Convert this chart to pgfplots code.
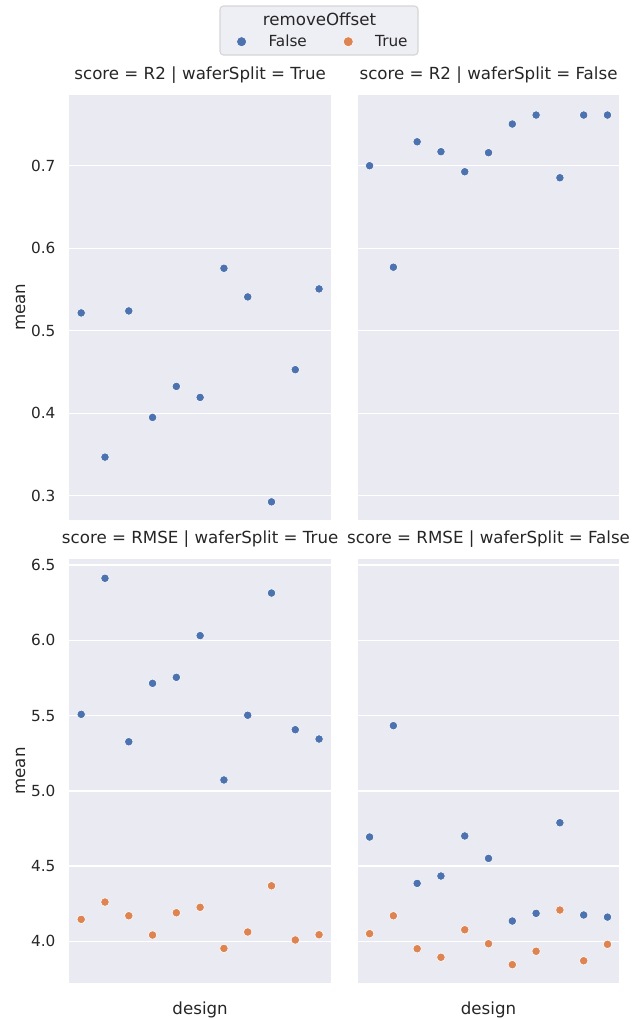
\documentclass[border=0pt]{standalone}
\usepackage{pgfplots}
\pgfplotsset{compat=1.18}
\usepackage{fontspec}
\setmainfont{DejaVu Sans}
\definecolor{sbblue}{HTML}{4C72B0}
\definecolor{sborange}{HTML}{DD8452}
\definecolor{sbbg}{HTML}{EAEAF2}
\definecolor{sbtext}{HTML}{262626}
\definecolor{legfill}{HTML}{EEEEF5}
\definecolor{legedge}{HTML}{D6D6D6}

\pgfplotstableread{
x y
0 0.5216
1 0.3468
2 0.5240
3 0.3949
4 0.4325
5 0.4192
6 0.5757
7 0.5410
8 0.2926
9 0.4528
10 0.5507
}\rtwoTrueFalse
\pgfplotstableread{
x y
0 0.7000
1 0.5770
2 0.7290
3 0.7170
4 0.6927
5 0.7158
6 0.7505
7 0.7614
8 0.6854
9 0.7614
10 0.7614
}\rtwoFalseFalse
\pgfplotstableread{
x y
0 5.508
1 6.412
2 5.326
3 5.714
4 5.754
5 6.031
6 5.072
7 5.502
8 6.314
9 5.406
10 5.344
}\rmseTrueFalse
\pgfplotstableread{
x y
0 4.146
1 4.261
2 4.170
3 4.042
4 4.190
5 4.226
6 3.953
7 4.062
8 4.369
9 4.009
10 4.044
}\rmseTrueTrue
\pgfplotstableread{
x y
0 4.693
1 5.433
2 4.385
3 4.434
4 4.700
5 4.551
6 4.135
7 4.186
8 4.788
9 4.175
10 4.161
}\rmseFalseFalse
\pgfplotstableread{
x y
0 4.051
1 4.170
2 3.951
3 3.894
4 4.077
5 3.984
6 3.845
7 3.934
8 4.208
9 3.871
10 3.980
}\rmseFalseTrue

\pgfplotsset{
  facet/.style={
    scale only axis, width=188.4pt,
    xmin=-0.5, xmax=10.5, xtick=\empty,
    axis background/.style={fill=sbbg},
    axis line style={draw=none},
    ymajorgrids, grid style={white, line width=1pt},
    major tick length=0pt, tick style={draw=none},
    yticklabel style={font=\fontsize{11}{13}\selectfont, text=sbtext, inner sep=0pt, anchor=east, xshift=-9.8pt},
    title style={font=\fontsize{12}{14}\selectfont, text=sbtext, at={(axis description cs:0.5,1)}, anchor=base, yshift=5.5pt},
    xlabel style={font=\fontsize{12}{14}\selectfont, text=sbtext, at={(axis description cs:0.5,0)}, anchor=base, yshift=-22.55pt},
    ylabel style={font=\fontsize{12}{14}\selectfont, text=sbtext, at={(axis description cs:-0.1693,0.5)}, anchor=base},
    /pgf/number format/assume math mode=true,
    /pgf/number format/fixed,
    /pgf/number format/fixed zerofill,
    /pgf/number format/precision=1,
    clip=false,
  },
  bluept/.style={only marks, mark=*, mark size=3.05pt, mark options={fill=sbblue, draw=white, line width=0.4pt}},
  orangept/.style={only marks, mark=*, mark size=3.05pt, mark options={fill=sborange, draw=white, line width=0.4pt}},
}

\begin{document}
\begin{tikzpicture}
\path[use as bounding box] (0pt,0pt) rectangle (460.8pt,-733.68pt);
% legend frame and title
\draw[legedge, fill=legfill, rounded corners=2.5pt, line width=0.8pt] (158.4pt,-4.32pt) rectangle (300.96pt,-39.6pt);
\node[anchor=base, font=\fontsize{12}{14}\selectfont, text=sbtext] at (230.04pt,-18pt) {removeOffset};

% top-left
\begin{axis}[facet, anchor=north west, at={(49.9pt,-68.4pt)}, height=305.64pt,
  ymin=0.2712, ymax=0.7857, ytick={0.3,0.4,0.5,0.6,0.7},
  title={score = R2 | waferSplit = True}, ylabel={mean},
  legend columns=2,
  legend style={at={(0.6392,1.1256)}, anchor=west, draw=none, fill=none, inner sep=0pt, outer sep=0pt,
    font=\fontsize{11}{13}\selectfont, text=sbtext,
    nodes={inner sep=0pt, outer sep=0pt},
    /tikz/every odd column/.append style={column sep=15.8pt},
    /tikz/every even column/.append style={column sep=26.2pt}},
  legend image code/.code={\draw[#1, mark size=3.6pt] plot coordinates {(0pt,0pt)};},
]
\addlegendimage{bluept}
\addlegendentry{False}
\addlegendimage{orangept}
\addlegendentry{True}
\addplot[bluept, forget plot] table[x=x, y=y] {\rtwoTrueFalse};
\end{axis}

% top-right
\begin{axis}[facet, anchor=north west, at={(257.54pt,-68.4pt)}, height=305.64pt,
  ymin=0.2712, ymax=0.7857, ytick={0.3,0.4,0.5,0.6,0.7}, yticklabels={},
  title={score = R2 | waferSplit = False},
]
\addplot[bluept] table[x=x, y=y] {\rtwoFalseFalse};
\end{axis}

% bottom-left
\begin{axis}[facet, anchor=north west, at={(49.9pt,-402.70pt)}, height=304.85pt,
  ymin=3.725, ymax=6.538, ytick={4.0,4.5,5.0,5.5,6.0,6.5},
  title={score = RMSE | waferSplit = True}, ylabel={mean}, xlabel={design},
]
\addplot[bluept] table[x=x, y=y] {\rmseTrueFalse};
\addplot[orangept] table[x=x, y=y] {\rmseTrueTrue};
\end{axis}

% bottom-right
\begin{axis}[facet, anchor=north west, at={(257.54pt,-402.70pt)}, height=304.85pt,
  ymin=3.725, ymax=6.538, ytick={4.0,4.5,5.0,5.5,6.0,6.5}, yticklabels={},
  title={score = RMSE | waferSplit = False}, xlabel={design},
]
\addplot[bluept] table[x=x, y=y] {\rmseFalseFalse};
\addplot[orangept] table[x=x, y=y] {\rmseFalseTrue};
\end{axis}
\end{tikzpicture}
\end{document}
